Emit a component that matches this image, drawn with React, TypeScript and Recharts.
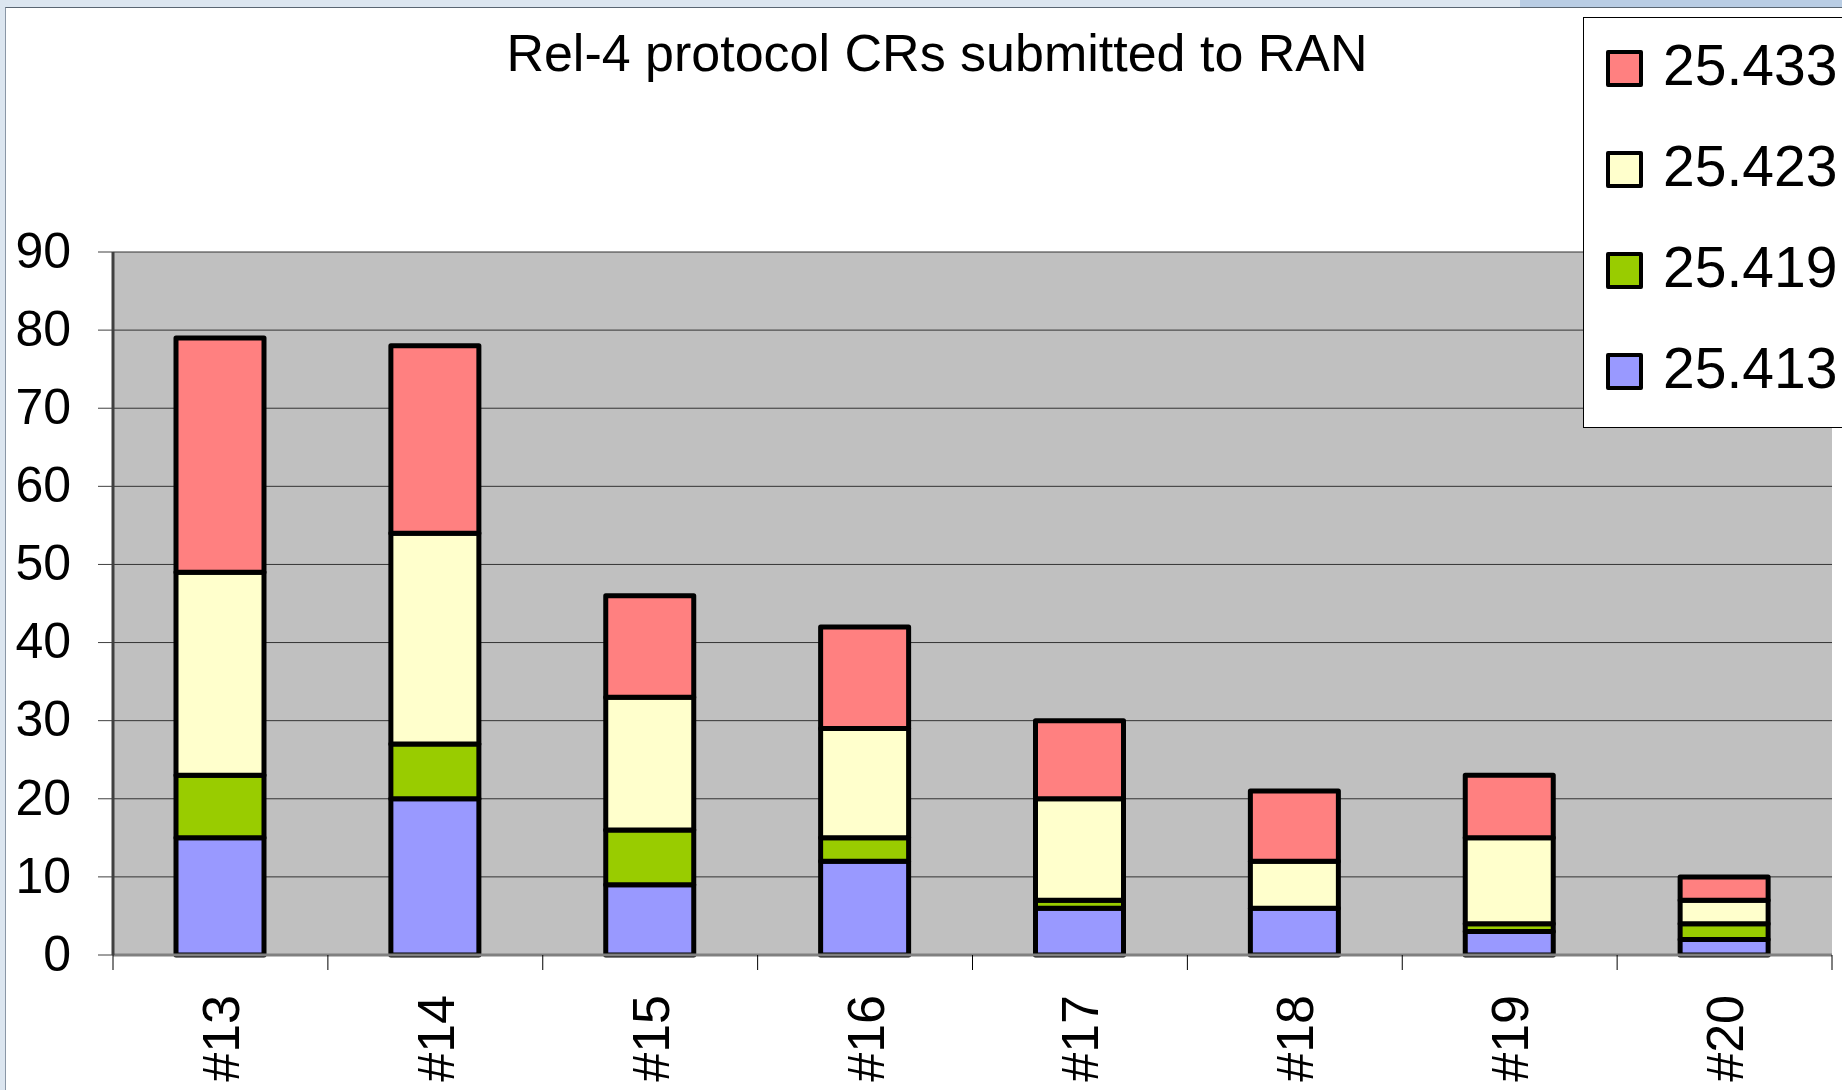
import React from "react";
import { BarChart, Bar, XAxis, YAxis, CartesianGrid, Legend } from "recharts";

const FONT = "'Liberation Sans', Arial, sans-serif";

// RAN meetings and CR counts per spec
const meetings = ["#13", "#14", "#15", "#16", "#17", "#18", "#19", "#20"];
const ts25413 = [15, 20, 9, 12, 6, 6, 3, 2];
const ts25419 = [8, 7, 7, 3, 1, 0, 1, 2];
const ts25423 = [26, 27, 17, 14, 13, 6, 11, 3];
const ts25433 = [30, 24, 13, 13, 10, 9, 8, 3];
const yTicks = [0, 10, 20, 30, 40, 50, 60, 70, 80, 90];

const series = [
  { key: "s413", name: "25.413", fill: "#9999ff" },
  { key: "s419", name: "25.419", fill: "#99cc00" },
  { key: "s423", name: "25.423", fill: "#ffffcc" },
  { key: "s433", name: "25.433", fill: "#ff8080" },
];

const data = meetings.map((m, i) => ({
  meeting: m,
  s413: ts25413[i],
  s419: ts25419[i],
  s423: ts25423[i],
  s433: ts25433[i],
}));

function MeetingTick(props: any) {
  const { x, y, payload, index, visibleTicksCount } = props;
  const half = payload.offset ?? 1719 / 16;
  const ty = y + 40;
  return (
    <g>
      <line x1={x - half} x2={x - half} y1={y} y2={y + 15} stroke="#000" strokeWidth={1} />
      {index === visibleTicksCount - 1 && (
        <line x1={x + half} x2={x + half} y1={y} y2={y + 15} stroke="#000" strokeWidth={1} />
      )}
      <text
        x={x}
        y={ty}
        transform={`rotate(-90 ${x} ${ty})`}
        textAnchor="end"
        dy="0.355em"
        fontSize={52}
        fontFamily={FONT}
        fill="#000"
      >
        {payload.value}
      </text>
    </g>
  );
}

function LegendBox(props: any) {
  const items = [...(props.payload ?? [])].reverse();
  return (
    <div
      style={{
        width: 400,
        background: "#fff",
        border: "1px solid #000",
        paddingBottom: 5,
        fontFamily: FONT,
      }}
    >
      {items.map((it: any) => (
        <div key={it.value} style={{ height: 101, display: "flex", alignItems: "center" }}>
          <div
            style={{
              width: 29,
              height: 29,
              marginLeft: 22,
              background: it.color,
              border: "4px solid #000",
              borderRadius: 2,
            }}
          />
          <span
            style={{
              marginLeft: 20,
              fontSize: 57,
              lineHeight: "57px",
              color: "#000",
              position: "relative",
              top: -3,
            }}
          >
            {it.value}
          </span>
        </div>
      ))}
    </div>
  );
}

export default function App() {
  return (
    <div
      style={{
        position: "fixed",
        left: 0,
        top: 0,
        width: 1842,
        height: 1090,
        overflow: "hidden",
        background: "#dce6f0",
      }}
    >
      <div style={{ position: "absolute", left: 1520, top: 0, width: 322, height: 7, background: "#b9cde4" }} />
      <div
        style={{
          position: "absolute",
          left: 5,
          top: 7,
          right: 0,
          bottom: 0,
          background: "#fff",
          borderLeft: "1px solid #8a97a6",
          borderTop: "1px solid #5a6672",
        }}
      />
      <div
        style={{
          position: "absolute",
          left: 437,
          top: 27,
          width: 1000,
          textAlign: "center",
          fontFamily: FONT,
          fontSize: 52,
          lineHeight: "52px",
          color: "#000",
          whiteSpace: "nowrap",
        }}
      >
        Rel-4 protocol CRs submitted to RAN
      </div>
      <div style={{ position: "absolute", left: 0, top: 0 }}>
        <BarChart
          width={1842}
          height={1090}
          data={data}
          margin={{ top: 252, right: 10, bottom: 0, left: 0 }}
        >
          <CartesianGrid vertical={false} fill="#c0c0c0" stroke="#333" strokeWidth={1} />
          <XAxis
            dataKey="meeting"
            height={135}
            tickLine={false}
            tickSize={0}
            tickMargin={0}
            interval={0}
            axisLine={{ stroke: "#808080", strokeWidth: 3 }}
            tick={<MeetingTick />}
          />
          <XAxis
            xAxisId="top"
            dataKey="meeting"
            orientation="top"
            height={0}
            tick={false}
            tickLine={false}
            axisLine={{ stroke: "#808080", strokeWidth: 4 }}
          />
          <YAxis
            width={113}
            domain={[0, 90]}
            ticks={yTicks}
            interval={0}
            tickSize={15}
            tickMargin={27}
            tickLine={{ stroke: "#404040" }}
            axisLine={{ stroke: "#404040", strokeWidth: 3 }}
            tick={{ fontSize: 50, fontFamily: FONT, fill: "#000", dy: -2 }}
          />
          <YAxis
            yAxisId="right"
            orientation="right"
            width={0}
            domain={[0, 90]}
            tick={false}
            tickLine={false}
            axisLine={{ stroke: "#808080", strokeWidth: 4 }}
          />
          <Legend
            layout="vertical"
            align="center"
            verticalAlign="middle"
            content={<LegendBox />}
            wrapperStyle={{ left: 1583, top: 17, width: 400, height: "auto" }}
          />
          {series.map((s) => (
            <Bar
              key={s.key}
              dataKey={s.key}
              name={s.name}
              stackId="crs"
              fill={s.fill}
              stroke="#000"
              strokeWidth={5}
              strokeLinejoin="round"
              barSize={88}
              isAnimationActive={false}
            />
          ))}
        </BarChart>
      </div>
    </div>
  );
}
